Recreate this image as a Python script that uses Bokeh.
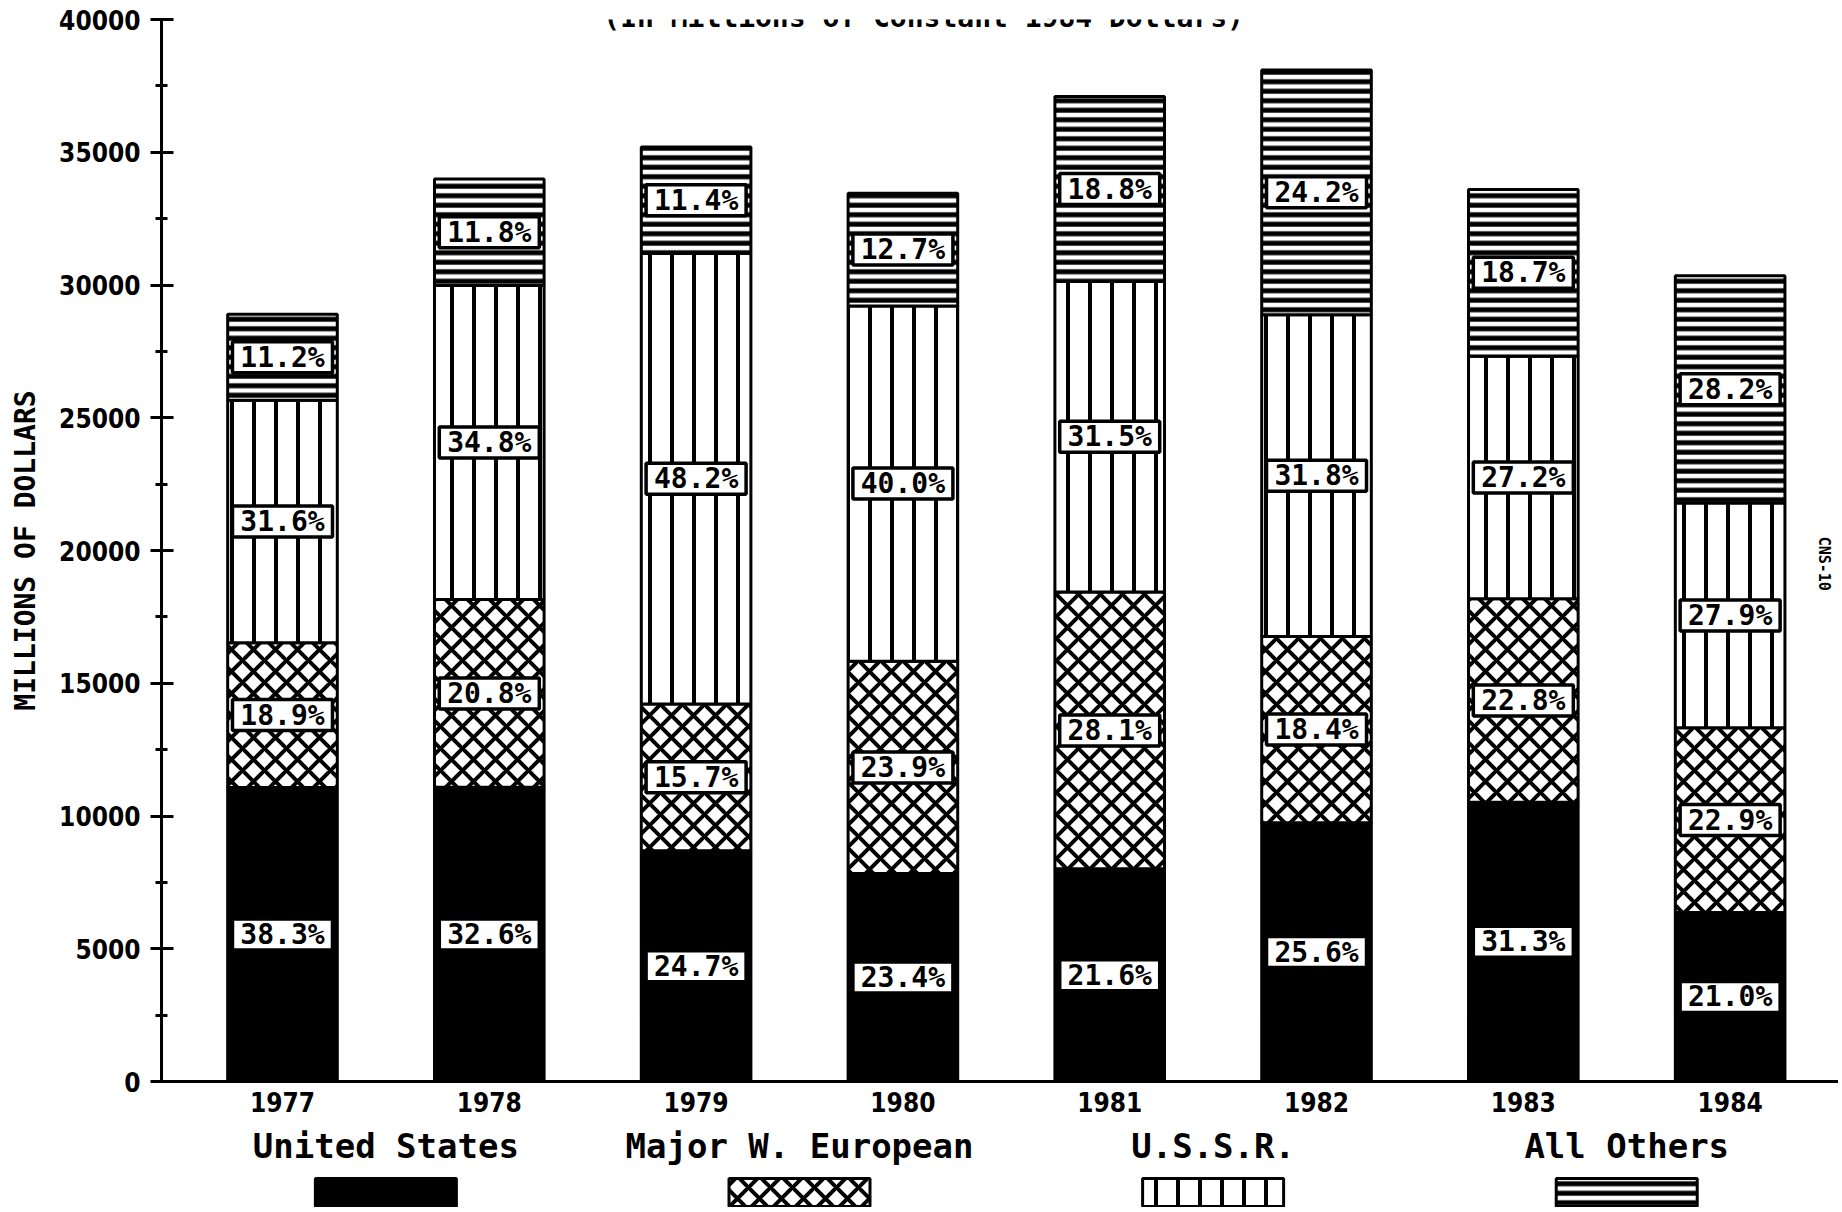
import numpy as np
from bokeh.plotting import figure
from bokeh.models import ColumnDataSource, Range1d, FixedTicker, Label
from bokeh.layouts import column
from bokeh.embed import file_html
from bokeh.resources import INLINE
from bokeh.core.properties import value

# ---------------- data ----------------
years = [1977, 1978, 1979, 1980, 1981, 1982, 1983, 1984]
year_labels = ["1977", "1978", "1979", "1980", "1981", "1982", "1983", "1984"]
series_names = ["United States", "Major W. European", "U.S.S.R.", "All Others"]

# millions of constant 1984 dollars
united_states = [11070, 11080, 8690, 7830, 8010, 9750, 10520, 6370]
w_european = [5460, 7070, 5530, 8000, 10430, 7010, 7660, 6950]
ussr = [9130, 11830, 16970, 13380, 11690, 12120, 9140, 8470]
all_others = [3240, 4010, 4010, 4250, 6970, 9220, 6280, 8560]

pct_us = ["38.3%", "32.6%", "24.7%", "23.4%", "21.6%", "25.6%", "31.3%", "21.0%"]
pct_we = ["18.9%", "20.8%", "15.7%", "23.9%", "28.1%", "18.4%", "22.8%", "22.9%"]
pct_ussr = ["31.6%", "34.8%", "48.2%", "40.0%", "31.5%", "31.8%", "27.2%", "27.9%"]
pct_oth = ["11.2%", "11.8%", "11.4%", "12.7%", "18.8%", "24.2%", "18.7%", "28.2%"]

y_ticks = [0, 5000, 10000, 15000, 20000, 25000, 30000, 35000, 40000]
y_label = "MILLIONS OF DOLLARS"
subtitle = "(In Millions of Constant 1984 Dollars)"
side_note = "CNS-10"

# ---------------- styles ----------------
TICK_FONT = "'DejaVu Sans Condensed', 'DejaVu Sans'"
MONO = "'DejaVu Sans Mono'"
fills = ["black", "white", "white", "white"]
hatches = [" ", "x", "|", "-"]
hatch_scales = [12, 22, 22, 9.5]
hatch_weights = [1, 4, 4, 5]

W = 1838
H_MAIN = 1121
H_LEG = 86

keys = ["us", "we", "ussr", "oth"]
src = ColumnDataSource(dict(year=years, us=united_states, we=w_european,
                            ussr=ussr, oth=all_others))

p = figure(width=W, height=H_MAIN, output_backend="svg", toolbar_location=None,
           x_range=Range1d(1976.415, 1984.524), y_range=Range1d(0, 40000),
           min_border_left=161, min_border_right=0, min_border_top=19,
           min_border_bottom=40, background_fill_color="white",
           border_fill_color="white")
p.outline_line_color = None
p.xgrid.visible = False
p.ygrid.visible = False

p.vbar_stack(keys, x="year", width=0.53, source=src,
             fill_color=fills, line_color="black", line_width=3,
             hatch_pattern=hatches, hatch_color="black",
             hatch_scale=hatch_scales, hatch_weight=hatch_weights)

# percentage labels at segment centres
vals = np.array([united_states, w_european, ussr, all_others], dtype=float)
tops = np.cumsum(vals, axis=0)
bots = tops - vals
mids = (tops + bots) / 2.0
pcts = [pct_us, pct_we, pct_ussr, pct_oth]
lab_x, lab_y, lab_t = [], [], []
for i in range(4):
    for j, yr in enumerate(years):
        lab_x.append(yr)
        lab_y.append(mids[i][j])
        lab_t.append(pcts[i][j])
lsrc = ColumnDataSource(dict(x=lab_x, y=lab_y, t=lab_t))
p.rect(x="x", y="y", width=100, height=31, width_units="screen",
       height_units="screen", fill_color="white", line_color="black",
       line_width=3.5, source=lsrc)
p.text(x="x", y="y", text="t", source=lsrc, text_align="center",
       text_baseline="middle", text_font=value("DejaVu Sans Mono"),
       text_font_size="28px", text_font_style="bold", text_color="black")

# y axis
ya = p.yaxis[0]
ya.ticker = FixedTicker(ticks=y_ticks,
                        minor_ticks=list(np.array(y_ticks[:-1]) + 2500))
ya.bounds = (0, 40000)
ya.axis_line_width = 3
ya.major_tick_line_width = 3
ya.minor_tick_line_width = 3
ya.major_tick_in = 12
ya.major_tick_out = 11
ya.minor_tick_in = 6
ya.minor_tick_out = 6
ya.major_label_standoff = 10
ya.major_label_text_font = TICK_FONT
ya.major_label_text_font_size = "26px"
ya.major_label_text_font_style = "bold"
ya.major_label_text_color = "black"
ya.axis_label = y_label
ya.axis_label_text_font = MONO
ya.axis_label_text_font_size = "28px"
ya.axis_label_text_font_style = "bold"
ya.axis_label_text_color = "black"
ya.axis_label_standoff = 14

# x axis
xa = p.xaxis[0]
xa.ticker = FixedTicker(ticks=years)
xa.major_label_overrides = {yr: lab for yr, lab in zip(years, year_labels)}
xa.axis_line_width = 3
xa.major_tick_in = 0
xa.major_tick_out = 0
xa.minor_tick_in = 0
xa.minor_tick_out = 0
xa.major_label_standoff = 10
xa.major_label_text_font = TICK_FONT
xa.major_label_text_font_size = "26px"
xa.major_label_text_font_style = "bold"
xa.major_label_text_color = "black"

# subtitle at the very top (mostly cropped in the original scan)
p.add_layout(Label(x=1980.1, y=40690, x_units="data", y_units="data",
                   text=subtitle, text_font=MONO, text_font_size="28px",
                   text_font_style="bold", text_align="center",
                   text_baseline="top", text_color="black"))

# small rotated reference code at the right edge
p.add_layout(Label(x=1984.455, y=19500, x_units="data", y_units="data",
                   text=side_note, angle=-np.pi / 2, text_font=MONO,
                   text_font_size="15px", text_font_style="bold",
                   text_align="center", text_baseline="middle",
                   text_color="black"))

# ---------------- legend strip (shares the year axis) ----------------
leg = figure(width=W, height=H_LEG, output_backend="svg", toolbar_location=None,
             x_range=p.x_range, y_range=Range1d(H_LEG, 0),
             min_border_left=161, min_border_right=0,
             min_border_top=0, min_border_bottom=0,
             background_fill_color="white", border_fill_color="white")
leg.axis.visible = False
leg.xgrid.visible = False
leg.ygrid.visible = False
leg.outline_line_color = None
leg_x = list(np.array(years[0::2]) + 0.5)
legsrc = ColumnDataSource(dict(x=leg_x, t=series_names, fill=fills,
                               hatch=hatches, hs=hatch_scales, hw=hatch_weights))
leg.text(x="x", y=24, text="t", source=legsrc, text_align="center",
         text_baseline="middle", text_font=value("DejaVu Sans Mono"),
         text_font_size="34px", text_font_style="bold", text_color="black")
leg.rect(x="x", y=71, width=141, height=28, width_units="screen",
         source=legsrc, fill_color="fill",
         line_color="black", line_width=3, hatch_pattern="hatch",
         hatch_color="black", hatch_scale="hs", hatch_weight="hw")

layout = column(p, leg, spacing=0)
open("out.html", "w").write(file_html(layout, INLINE))
